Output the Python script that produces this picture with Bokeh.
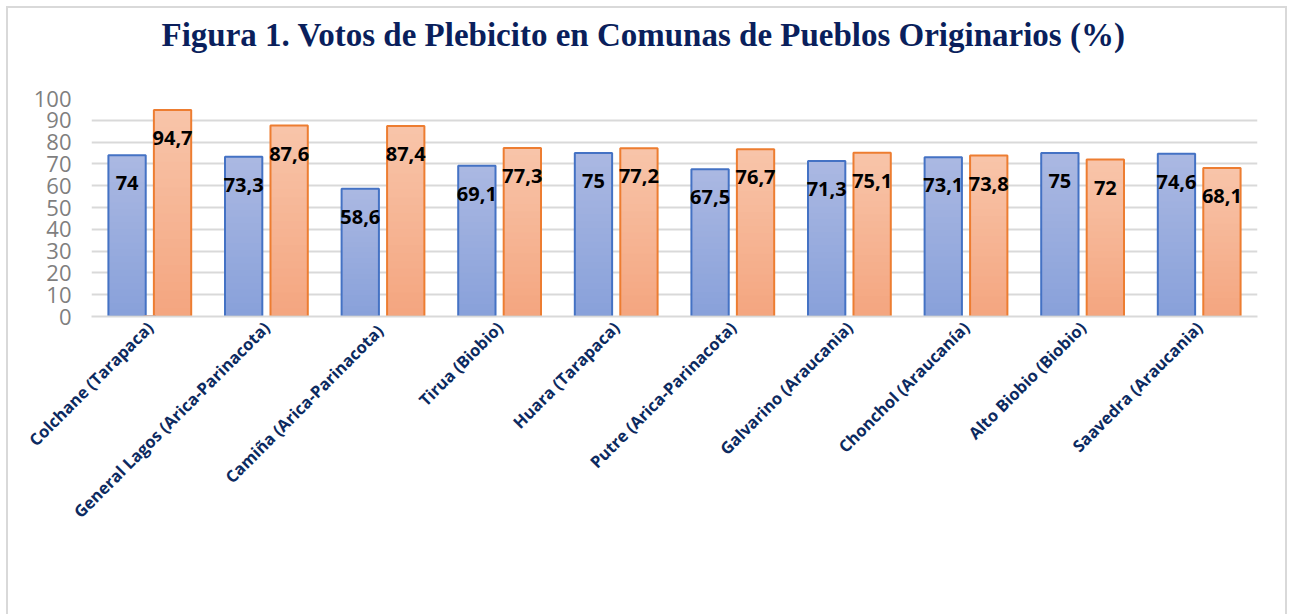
from math import pi
from bokeh.plotting import figure
from bokeh.models import (FactorRange, Range1d, Title, Legend, LegendItem,
                          ColumnDataSource, SingleIntervalTicker)
from bokeh.transform import dodge
from bokeh.core.properties import value
from bokeh.embed import file_html
from bokeh.resources import INLINE

# ---- data ----
comunas = ["Colchane (Tarapaca)", "General Lagos (Arica-Parinacota)",
           "Camiña  (Arica-Parinacota)", "Tirua (Biobio)", "Huara (Tarapaca)",
           "Putre (Arica-Parinacota)", "Galvarino (Araucania)",
           "Chonchol (Araucanía)", "Alto Biobio (Biobio)", "Saavedra (Araucania)"]
apruebo_2020 = [74, 73.3, 58.6, 69.1, 75, 67.5, 71.3, 73.1, 75, 74.6]
rechazo_2022 = [94.7, 87.6, 87.4, 77.3, 77.2, 76.7, 75.1, 73.8, 72, 68.1]
series_names = ["Apruebo  2020 (%)", "Rechazo 2022 (%)"]
title_text = "Figura 1. Votos de Plebicito en Comunas de Pueblos Originarios (%)"

def fmt(v):
    s = ("%g" % v)
    return s.replace(".", ",")

FW, FH = 1166, 218
p = figure(x_range=FactorRange(*comunas), y_range=Range1d(0, 100),
           frame_width=FW, frame_height=FH,
           output_backend="svg", toolbar_location=None,
           min_border_left=83, min_border_right=28, min_border_top=90,
           min_border_bottom=286)
p.outline_line_color = None
p.background_fill_color = "white"
p.border_fill_color = "white"

title = Title(text=title_text + "\n ", text_font="Liberation Serif",
              text_font_size="33px", text_font_style="bold",
              text_color="#0a1f5c", align="left", offset=70, standoff=8,
              text_line_height=1.15)
p.add_layout(title, "above")

# gradient fills (top lighter -> bottom darker), drawn from highest fraction down
N = 24
def lerp(c1, c2, t):
    return "#%02x%02x%02x" % tuple(int(round(a + (b - a) * t)) for a, b in zip(c1, c2))

blue_top, blue_bot = (0xab, 0xb9, 0xe2), (0x88, 0xa0, 0xda)
or_top, or_bot = (0xf8, 0xc5, 0xaa), (0xf4, 0xa5, 0x7f)

src = ColumnDataSource(dict(c=comunas, a=apruebo_2020, r=rechazo_2022,
                            al=[fmt(v) for v in apruebo_2020],
                            rl=[fmt(v) for v in rechazo_2022]))
BW = 0.32
OFF = 0.195
for k in range(N, 0, -1):
    f = k / N
    t = 1 - (k - 0.5) / N
    s = ColumnDataSource(dict(c=comunas, a=[v * f for v in apruebo_2020],
                              r=[v * f for v in rechazo_2022]))
    p.vbar(x=dodge("c", -OFF, range=p.x_range), top="a", width=BW, source=s,
           fill_color=lerp(blue_top, blue_bot, t), line_color=None)
    p.vbar(x=dodge("c", OFF, range=p.x_range), top="r", width=BW, source=s,
           fill_color=lerp(or_top, or_bot, t), line_color=None)

p.vbar(x=dodge("c", -OFF, range=p.x_range), top="a", width=BW, source=src,
       fill_alpha=0, line_color="#4472c4", line_width=2)
p.vbar(x=dodge("c", OFF, range=p.x_range), top="r", width=BW, source=src,
       fill_alpha=0, line_color="#ed7d31", line_width=2)

# legend swatches (kept outside the visible range)
lb = p.vbar(x=[comunas[0]], bottom=[-60], top=[-50], width=0.1,
            fill_color=lerp(blue_top, blue_bot, 0.4), line_color="#4472c4", line_width=2)
lr = p.vbar(x=[comunas[0]], bottom=[-60], top=[-50], width=0.1,
            fill_color=lerp(or_top, or_bot, 0.4), line_color="#ed7d31", line_width=2)

p.text(x=dodge("c", -OFF, range=p.x_range), y="a", text="al", source=src,
       text_font=value("Open Sans"), text_font_style="bold", text_font_size="20px",
       text_color="black", text_align="center", text_baseline="middle", y_offset=28)
p.text(x=dodge("c", OFF, range=p.x_range), y="r", text="rl", source=src,
       text_font=value("Open Sans"), text_font_style="bold", text_font_size="20px",
       text_color="black", text_align="center", text_baseline="middle", y_offset=28)

# axes
p.yaxis.ticker = SingleIntervalTicker(interval=10)
p.yaxis.axis_line_color = None
p.yaxis.major_tick_line_color = None
p.yaxis.minor_tick_line_color = None
p.yaxis.major_label_text_font = "Open Sans"
p.yaxis.major_label_text_font_size = "22px"
p.yaxis.major_label_text_color = "#7f7f7f"
p.yaxis.major_label_standoff = 14

p.xaxis.axis_line_color = "#d9d9d9"
p.xaxis.axis_line_width = 2
p.xaxis.major_tick_line_color = None
p.xaxis.minor_tick_line_color = None
p.xaxis.major_label_orientation = pi / 4
p.xaxis.major_label_text_font = "Open Sans"
p.xaxis.major_label_text_font_style = "bold"
p.xaxis.major_label_text_font_size = "16.5px"
p.xaxis.major_label_text_color = "#0c2a60"
p.xaxis.major_label_standoff = 2
p.x_range.range_padding = 0

p.xgrid.grid_line_color = None
p.ygrid.grid_line_color = "#d9d9d9"
p.ygrid.grid_line_width = 2

legend = Legend(items=[LegendItem(label=series_names[0], renderers=[lb]),
                       LegendItem(label=series_names[1], renderers=[lr])],
                orientation="horizontal", location=(347, 60),
                label_text_font="Open Sans", label_text_font_size="21px",
                label_text_color="#7f7f7f", glyph_width=13, glyph_height=13,
                spacing=34, border_line_color=None, background_fill_alpha=0,
                margin=0, padding=4, label_standoff=6)
p.add_layout(legend, "below")

p.styles = {"margin-left": "6px", "margin-top": "6px",
            "border-left": "2px solid #d9d9d9", "border-top": "2px solid #d9d9d9",
            "border-right": "2px solid #d9d9d9"}

open("out.html", "w").write(file_html(p, INLINE))
